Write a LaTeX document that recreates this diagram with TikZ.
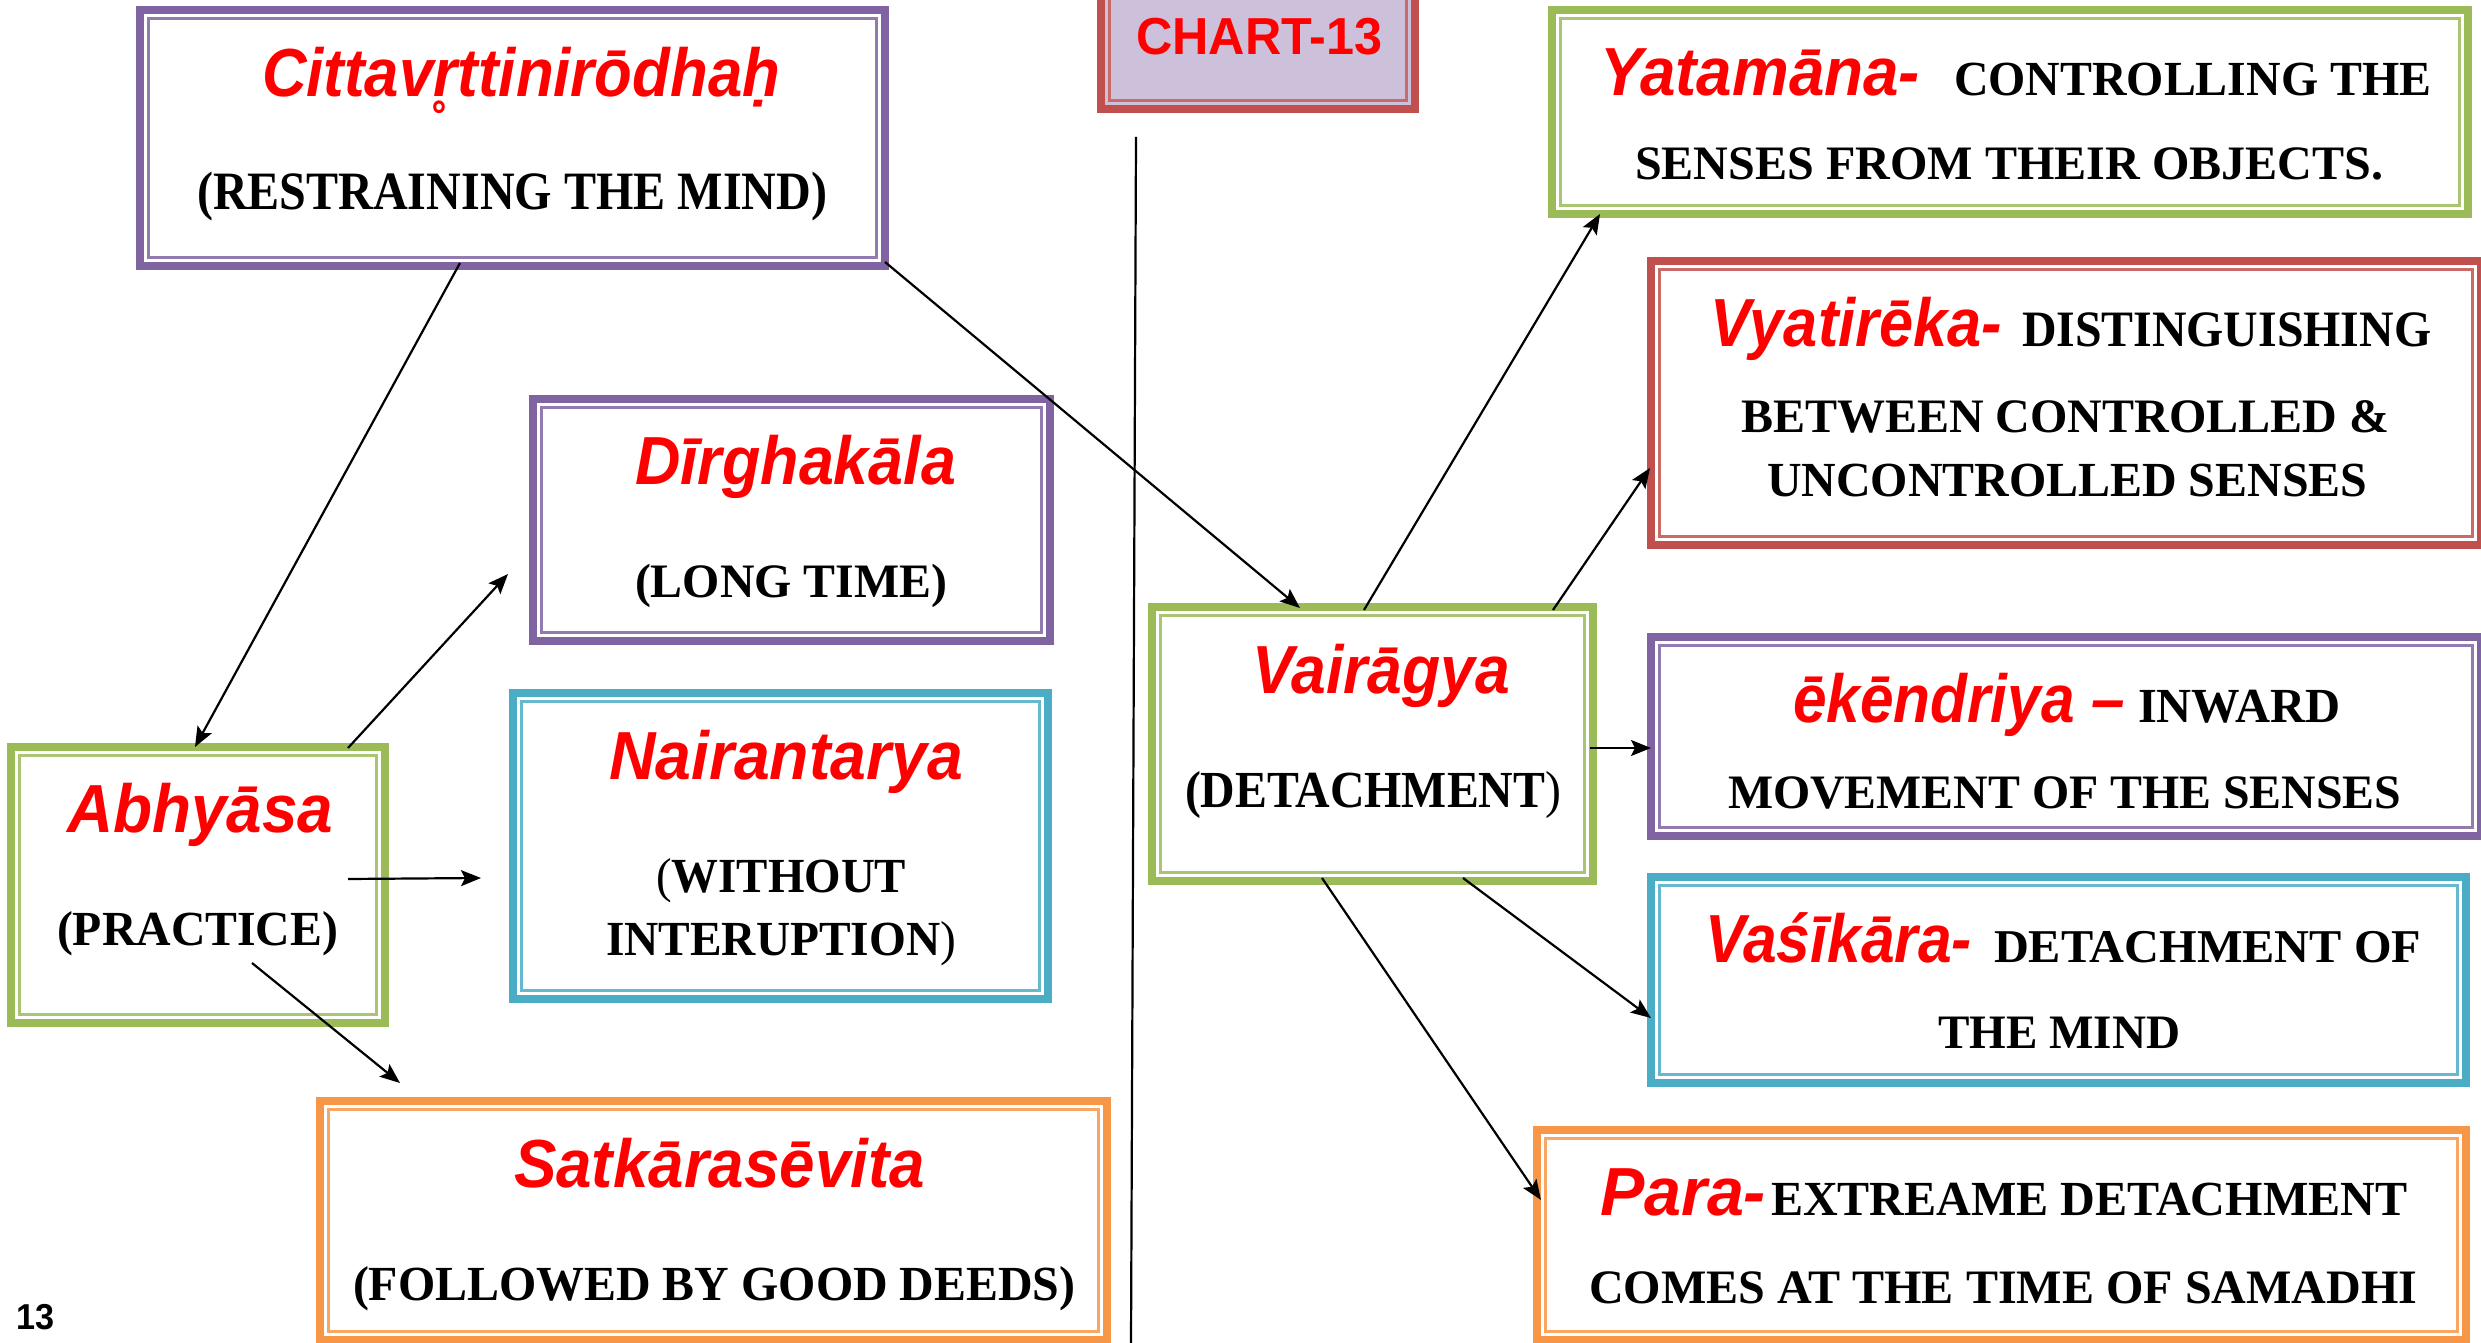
\documentclass[tikz,border=0pt]{standalone}
\usepackage{fontspec}
\usepackage{graphicx}
\setmainfont{Liberation Serif}
\newfontfamily\sktfont{Liberation Sans}
\usetikzlibrary{arrows.meta}

\definecolor{bxpurple}{HTML}{8064A2}
\definecolor{bxred}{HTML}{C0504D}
\definecolor{bxgreen}{HTML}{9BBB59}
\definecolor{bxteal}{HTML}{4BACC6}
\definecolor{bxorange}{HTML}{F79646}
\definecolor{lavender}{HTML}{CCC0DA}
\definecolor{termred}{HTML}{FF0000}

% font size given in drawing units (1 unit = 0.01cm)
\newcommand\fs[1]{\fontsize{\fpeval{#1*0.28453}}{\fpeval{#1*0.34}}\selectfont}
% set a line and stretch it horizontally to a given width (drawing units)
\newlength\natw
\newcommand\fitto[2]{\settowidth\natw{#2}%
  \edef\fitfactor{\fpeval{#1*0.2845276/(\the\natw)}}%
  \scalebox{\fitfactor}[1]{#2}}
% red Sanskrit term and black bold gloss
\newcommand\term[2]{{\sktfont\bfseries\itshape\color{termred}\fs{68}\fitto{#1}{#2}}}
\newcommand\gloss[3]{{\bfseries\fs{#1}\fitto{#2}{#3}}}

\tikzset{
  panel/.style={rectangle, draw=#1, line width=0.08cm, fill=white,
    inner sep=0pt, outer sep=0pt},
  panelrule/.style={draw=#1!85!white, line width=0.025cm},
  txt/.style={inner sep=0pt, outer sep=0pt, anchor=base west},
  link/.style={line width=0.022cm,
    -{Stealth[length=0.2cm, width=0.16cm, inset=0.04cm]}},
}

% double-ruled panel: [extra options]{name}{colour}{left}{top}{right}{bottom}
\newcommand\drawpanel[7][]{%
  \node[panel=#3, #1, minimum width={(#6-#4-8)*0.01cm},
        minimum height={(#7-#5-8)*0.01cm}] (#2) at ({(#4+#6)/2},{(#5+#7)/2}) {};
  \draw[panelrule=#3] ([shift={(0.085cm,-0.085cm)}]#2.north west)
    rectangle ([shift={(-0.085cm,0.085cm)}]#2.south east);
}

\begin{document}
\begin{tikzpicture}[x=0.01cm, y=-0.01cm]
\useasboundingbox (0,0) rectangle (2481,1343);

% panels
\drawpanel{citta}{bxpurple}{136}{6}{889}{270}
\drawpanel[fill=lavender]{chart}{bxred}{1097}{-40}{1419}{113}
\drawpanel{yatamana}{bxgreen}{1548}{6}{2472}{218}
\drawpanel{vyatireka}{bxred}{1647}{257}{2485}{549}
\drawpanel{dirgha}{bxpurple}{529}{395}{1054}{645}
\drawpanel{nairan}{bxteal}{509}{689}{1052}{1003}
\drawpanel{abhyasa}{bxgreen}{7}{743}{389}{1027}
\drawpanel{vairagya}{bxgreen}{1148}{603}{1597}{885}
\drawpanel{ekendriya}{bxpurple}{1647}{633}{2485}{840}
\drawpanel{vasikara}{bxteal}{1647}{873}{2470}{1087}
\drawpanel{satkara}{bxorange}{316}{1097}{1111}{1344}
\drawpanel{para}{bxorange}{1533}{1126}{2470}{1344}

% dividing rule
\coordinate (divtop) at (1136,137);
\coordinate (divbot) at (1131,1343);
\draw[line width=0.022cm] (divtop) -- (divbot);

% texts
\node[txt] (chartT) at (1136,55) {{\sktfont\bfseries\color{termred}\fs{52}\fitto{246}{CHART-13}}};
\node[txt] (pageno) at (16,1329) {{\sktfont\bfseries\fs{36}\fitto{38}{13}}};

\node[txt] (cittaT) at (262,97) {\term{518}{Cittavr̥ttinirōdhaḥ}};
\node[txt] (cittaG) at (197,210) {\gloss{54}{630}{(RESTRAINING THE MIND)}};

\node[txt] (dirghaT) at (635,485) {\term{321}{Dīrghakāla}};
\node[txt] (dirghaG) at (635,597) {\gloss{48}{312}{(LONG TIME)}};

\node[txt] (nairanT) at (609,779) {\term{354}{Nairantarya}};
\node[txt] (nairanG1) at (656,892) {\gloss{49}{250}{\textmd{(}WITHOUT}};
\node[txt] (nairanG2) at (606,955) {\gloss{49}{350}{INTERUPTION\textmd{)}}};

\node[txt] (abhyasaT) at (67,832) {\term{266}{Abhyāsa}};
\node[txt] (abhyasaG) at (57,945) {\gloss{49}{281}{(PRACTICE)}};

\node[txt] (satkaraT) at (514,1187) {\term{411}{Satkārasēvita}};
\node[txt] (satkaraG) at (353,1300) {\gloss{49}{722}{(FOLLOWED BY GOOD DEEDS)}};

\node[txt] (vairagyaT) at (1252,693) {\term{258}{Vairāgya}};
\node[txt] (vairagyaG) at (1185,807) {\gloss{52}{376}{(DETACHMENT\textmd{)}}};

\node[txt] (yatamanaT) at (1600,96) {\term{320}{Yatamāna-}};
\node[txt] (yatamanaG1) at (1954,96) {\gloss{49}{477}{CONTROLLING THE}};
\node[txt] (yatamanaG2) at (1635,180) {\gloss{48}{748}{SENSES FROM THEIR OBJECTS.}};

\node[txt] (vyatirekaT) at (1710,347) {\term{292}{Vyatirēka-}};
\node[txt] (vyatirekaG1) at (2022,347) {\gloss{51}{409}{DISTINGUISHING}};
\node[txt] (vyatirekaG2) at (1741,433) {\gloss{48}{648}{BETWEEN CONTROLLED \&}};
\node[txt] (vyatirekaG3) at (1767,497) {\gloss{49}{600}{UNCONTROLLED SENSES}};

\node[txt] (ekendriyaT) at (1793,722) {\term{332}{ēkēndriya –}};
\node[txt] (ekendriyaG1) at (2138,722) {\gloss{49}{202}{INWARD}};
\node[txt] (ekendriyaG2) at (1728,808) {\gloss{48}{673}{MOVEMENT OF THE SENSES}};

\node[txt] (vasikaraT) at (1705,962) {\term{267}{Vaśīkāra-}};
\node[txt] (vasikaraG1) at (1994,962) {\gloss{47}{427}{DETACHMENT OF}};
\node[txt] (vasikaraG2) at (1938,1048) {\gloss{48}{242}{THE MIND}};

\node[txt] (paraT) at (1600,1215) {\term{166}{Para-}};
\node[txt] (paraG1) at (1771,1215) {\gloss{49}{636}{EXTREAME DETACHMENT}};
\node[txt] (paraG2) at (1589,1303) {\gloss{48}{828}{COMES AT THE TIME OF SAMADHI}};

% connector ends
\coordinate (c2a) at (460,263);   \coordinate (a2) at (195,747);
\coordinate (c2v) at (885,262);   \coordinate (v2) at (1300,608);
\coordinate (a2d) at (348,748);   \coordinate (d2) at (508,574);
\coordinate (a2n) at (348,879);   \coordinate (n2) at (481,878);
\coordinate (a2s) at (252,963);   \coordinate (s2) at (400,1083);
\coordinate (v2y) at (1364,610);  \coordinate (y2) at (1600,214);
\coordinate (v2r) at (1553,610);  \coordinate (r2) at (1650,468);
\coordinate (v2e) at (1590,748);  \coordinate (e2) at (1651,748);
\coordinate (v2s) at (1463,878);  \coordinate (w2) at (1651,1018);
\coordinate (v2p) at (1322,878);  \coordinate (p2) at (1541,1200);

% connectors
\draw[link] (c2a) -- (a2);
\draw[link] (c2v) -- (v2);
\draw[link] (a2d) -- (d2);
\draw[link] (a2n) -- (n2);
\draw[link] (a2s) -- (s2);
\draw[link] (v2y) -- (y2);
\draw[link] (v2r) -- (r2);
\draw[link] (v2e) -- (e2);
\draw[link] (v2s) -- (w2);
\draw[link] (v2p) -- (p2);
\end{tikzpicture}
\end{document}
